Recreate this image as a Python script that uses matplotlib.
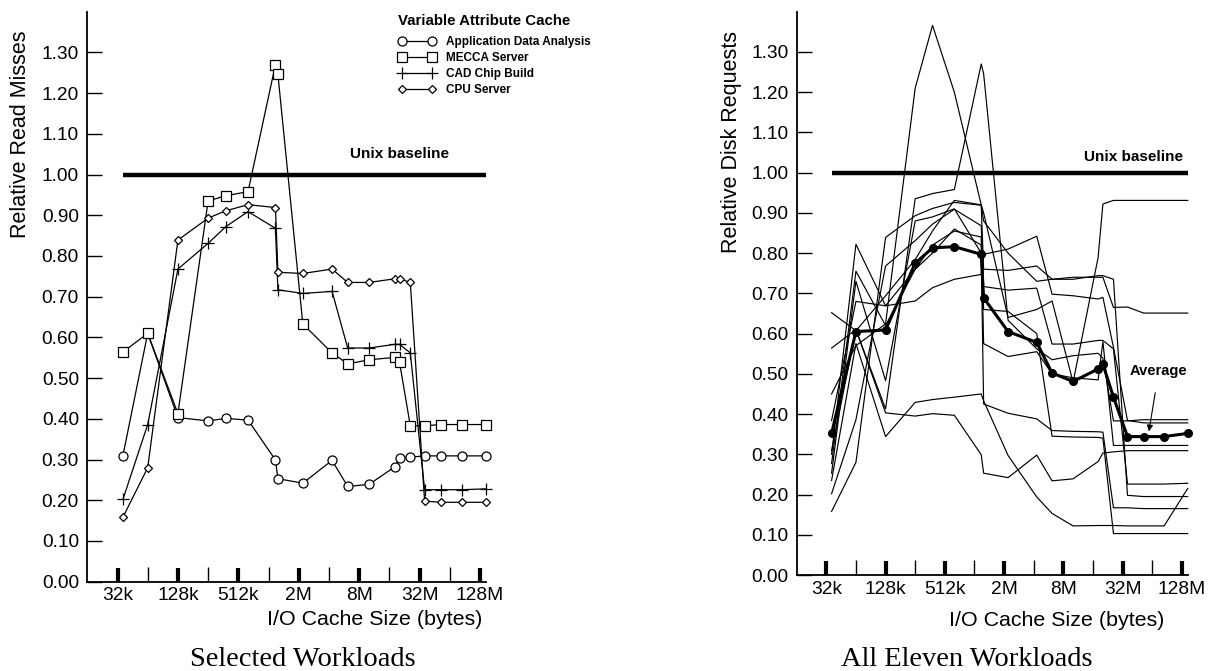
import matplotlib
matplotlib.use("Agg")
import matplotlib.pyplot as plt
from matplotlib.ticker import FixedLocator, FixedFormatter, NullFormatter
from matplotlib.font_manager import FontProperties

plt.rcParams['font.family'] = ['Liberation Sans', 'DejaVu Sans']

# ---------------- data ----------------
# cache sizes (KB) at which points were measured
cache_kb = [36.2, 64, 128, 256, 384, 640, 1200, 1270, 2250, 4400, 6300,
            10300, 18500, 20700, 26500, 36800, 53600, 86700, 150500]

app_data = [0.309, 0.610, 0.403, 0.395, 0.401, 0.397, 0.299, 0.253, 0.242, 0.298,
            0.234, 0.239, 0.282, 0.303, 0.306, 0.309, 0.309, 0.309, 0.309]
mecca = [0.564, 0.610, 0.413, 0.935, 0.948, 0.958, 1.270, 1.246, 0.633, 0.562,
         0.535, 0.545, 0.551, 0.539, 0.383, 0.383, 0.386, 0.386, 0.386]
cad_chip = [0.202, 0.386, 0.768, 0.831, 0.872, 0.909, 0.868, 0.717, 0.708, 0.713,
            0.574, 0.574, 0.583, 0.583, 0.562, 0.226, 0.226, 0.226, 0.228]
cpu_server = [0.158, 0.280, 0.839, 0.893, 0.911, 0.926, 0.919, 0.760, 0.757, 0.768,
              0.735, 0.735, 0.744, 0.744, 0.735, 0.198, 0.195, 0.195, 0.195]

# remaining seven workloads (right panel)
wl_5 = [0.450, 0.570, 0.624, 1.210, 1.366, 1.200, 0.920, 0.900, 0.640, 0.660,
        0.681, 0.479, 0.789, 0.922, 0.931, 0.931, 0.931, 0.931, 0.931]
wl_6 = [0.652, 0.607, 0.694, 0.784, 0.855, 0.931, 0.920, 0.880, 0.800, 0.730,
        0.735, 0.740, 0.740, 0.740, 0.665, 0.666, 0.651, 0.651, 0.651]
wl_7 = [0.384, 0.680, 0.669, 0.681, 0.714, 0.735, 0.747, 0.797, 0.810, 0.842,
        0.698, 0.694, 0.686, 0.690, 0.566, 0.384, 0.378, 0.378, 0.378]
wl_8 = [0.277, 0.755, 0.620, 0.760, 0.820, 0.855, 0.840, 0.575, 0.543, 0.555,
        0.500, 0.490, 0.485, 0.580, 0.322, 0.322, 0.322, 0.322, 0.322]
wl_9 = [0.253, 0.730, 0.483, 0.880, 0.890, 0.910, 0.800, 0.425, 0.402, 0.388,
        0.359, 0.357, 0.356, 0.355, 0.167, 0.167, 0.165, 0.165, 0.165]
wl_10 = [0.300, 0.822, 0.669, 0.760, 0.800, 0.860, 0.820, 0.660, 0.655, 0.600,
         0.345, 0.343, 0.342, 0.340, 0.103, 0.103, 0.103, 0.103, 0.103]
wl_11 = [0.235, 0.575, 0.344, 0.429, 0.436, 0.442, 0.450, 0.433, 0.297, 0.194,
         0.153, 0.122, 0.123, 0.123, 0.123, 0.122, 0.122, 0.122, 0.215]

average = [0.352, 0.605, 0.609, 0.775, 0.813, 0.816, 0.797, 0.689, 0.605, 0.578,
           0.502, 0.481, 0.512, 0.524, 0.442, 0.344, 0.344, 0.344, 0.352]

baseline = 1.00
xtick_kb = [32, 128, 512, 2048, 8192, 32768, 131072]
xtick_labels = ['32k', '128k', '512k', '2M', '8M', '32M', '128M']
xminor_kb = [64, 256, 1024, 4096, 16384, 65536]
ytick_vals = [0.0, 0.1, 0.2, 0.3, 0.4, 0.5, 0.6, 0.7, 0.8, 0.9, 1.0, 1.1, 1.2, 1.3]

left_series = [("Application Data Analysis", app_data, 'o', 6.5),
               ("MECCA Server", mecca, 's', 6.5),
               ("CAD Chip Build", cad_chip, '+', 8),
               ("CPU Server", cpu_server, 'D', 4.5)]
right_series = [app_data, mecca, cad_chip, cpu_server,
                wl_5, wl_6, wl_7, wl_8, wl_9, wl_10, wl_11]

# ---------------- figure ----------------
W, H = 1226, 671
fig = plt.figure(figsize=(W / 100, H / 100), dpi=100)


def px_axes(x0, y0, x1, y1):
    return fig.add_axes([x0 / W, 1 - y1 / H, (x1 - x0) / W, (y1 - y0) / H])


TICK_FS = 13.8
LABEL_FS = 15.4


def style_axes(ax):
    ax.set_xscale('log', base=2)
    ax.set_xlim(16, 150562)
    ax.set_ylim(0, 1.40)
    for s in ('top', 'right'):
        ax.spines[s].set_visible(False)
    for s in ('left', 'bottom'):
        ax.spines[s].set_linewidth(1.3)
    ax.xaxis.set_major_locator(FixedLocator(xtick_kb))
    ax.xaxis.set_major_formatter(FixedFormatter(xtick_labels))
    ax.xaxis.set_minor_locator(FixedLocator(xminor_kb))
    ax.xaxis.set_minor_formatter(NullFormatter())
    ax.tick_params(axis='x', which='major', direction='in', length=10, width=3,
                   labelsize=TICK_FS, pad=4)
    ax.tick_params(axis='x', which='minor', direction='in', length=11, width=1)
    ax.set_yticks(ytick_vals)
    ax.set_yticklabels([f"{v:.2f}" for v in ytick_vals])
    ax.tick_params(axis='y', direction='in', length=11, width=1,
                   labelsize=TICK_FS, pad=6)


# ---- left panel ----
axL = px_axes(87.3, 11.7, 486, 581.7)
style_axes(axL)
axL.plot([cache_kb[0], cache_kb[-1]], [baseline, baseline], color='black',
         lw=3.2, solid_capstyle='butt')
handles = []
for name, vals, mk, ms in left_series:
    h, = axL.plot(cache_kb, vals, color='black', lw=0.9, marker=mk, ms=ms,
                  mfc='white', mec='black', mew=0.9, label=name, clip_on=False)
    handles.append(h)
axL.text(2 ** 14.33, 1.051, "Unix baseline", ha='center', va='center',
         fontsize=11, fontweight='bold')
axL.set_ylabel("Relative Read Misses", fontsize=15.5)
axL.yaxis.set_label_coords(-0.140, 0.785)
axL.set_xlabel("I/O Cache Size (bytes)", fontsize=LABEL_FS)
axL.xaxis.set_label_coords(0.722, -0.050)
fig.text(398 / W, 1 - 20.7 / H, "Variable Attribute Cache", ha='left', va='center',
         fontsize=10.8, fontweight='bold')
leg = axL.legend(handles=handles, loc='upper left',
                 bbox_to_anchor=(398 / W, 1 - 36.5 / H), bbox_transform=fig.transFigure,
                 frameon=False, numpoints=2, handlelength=3.2, handletextpad=0.9,
                 borderpad=0, borderaxespad=0, labelspacing=0.32,
                 prop=FontProperties(family='Liberation Sans', weight='bold', size=8.5))
fig.text(303 / W, 1 - 660 / H, "Selected Workloads", ha='center', va='center',
         fontsize=20.5, family='Liberation Serif')

# ---- right panel ----
axR = px_axes(796.7, 11.7, 1187.7, 575)
style_axes(axR)
axR.plot([cache_kb[0], cache_kb[-1]], [baseline, baseline], color='black',
         lw=3.2, solid_capstyle='butt')
for vals in right_series:
    axR.plot(cache_kb, vals, color='black', lw=0.85, clip_on=False)
axR.plot(cache_kb, average, color='black', lw=2.2, marker='o', ms=5.5,
         mfc='black', clip_on=False, zorder=5)
axR.text(2 ** 15.38, 1.040, "Unix baseline", ha='center', va='center',
         fontsize=11, fontweight='bold')
axR.annotate("Average", xy=(2 ** 15.89, 0.357), xytext=(150562, 0.508),
             ha='right', va='center', fontsize=10.5, fontweight='bold',
             arrowprops=dict(arrowstyle='-|>', color='black', lw=0.8,
                             mutation_scale=9, shrinkA=9, shrinkB=0))
axR.set_ylabel("Relative Disk Requests", fontsize=15.5)
axR.yaxis.set_label_coords(-0.140, 0.769)
axR.set_xlabel("I/O Cache Size (bytes)", fontsize=LABEL_FS)
axR.xaxis.set_label_coords(0.666, -0.064)
fig.text(966.7 / W, 1 - 659 / H, "All Eleven Workloads", ha='center', va='center',
         fontsize=20.5, family='Liberation Serif')

fig.savefig("out.png", dpi=100)
